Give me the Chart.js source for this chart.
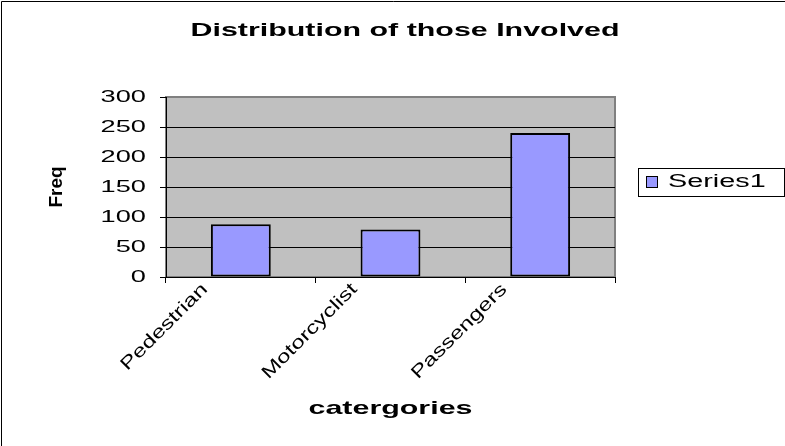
<!DOCTYPE html>
<html>
<head>
<meta charset="utf-8">
<script src="https://cdn.jsdelivr.net/npm/chart.js@4/dist/chart.umd.min.js"></script>
<style>
  html, body { margin: 0; padding: 0; background: #fff; }
</style>
</head>
<body>
<canvas id="chart" width="785" height="446"></canvas>
<script>
const categories = ["Pedestrian", "Motorcyclist", "Passengers"];
const series1 = [88, 79, 240];
const yTicks = [0, 50, 100, 150, 200, 250, 300];
const seriesName = "Series1";
const chartTitle = "Distribution of those Involved";
const xTitle = "catergories";
const yTitle = "Freq";

const FONT = "'Liberation Sans', Arial, sans-serif";
const STRETCH = 1.6; // the reference text is drawn wide

document.addEventListener("DOMContentLoaded", function () {
    const ctx = document.getElementById("chart").getContext("2d");

    // widen text along the horizontal, as in the picture
    const rawFillText = ctx.fillText.bind(ctx);
    ctx.fillText = function (text, x, y) {
        const m = ctx.getTransform();
        const len = Math.hypot(m.a, m.b) || 1;
        const sx = Math.hypot(STRETCH * m.a, m.b) / len;
        ctx.save();
        ctx.translate(x, y);
        ctx.scale(sx, 1);
        rawFillText(text, 0, 0);
        ctx.restore();
    };

    const excelFrame = {
        id: "excelFrame",
        beforeDraw(chart) {
            const a = chart.chartArea;
            const c = chart.ctx;
            c.save();
            c.fillStyle = "#C0C0C0";
            c.fillRect(a.left, a.top, a.right - a.left, a.bottom - a.top);
            c.strokeStyle = "#808080";
            c.lineWidth = 2;
            c.strokeRect(a.left, a.top, a.right - a.left, a.bottom - a.top);
            // outer chart border (only top and left are in the picture)
            c.strokeStyle = "#000";
            c.lineWidth = 1;
            c.beginPath();
            c.moveTo(1.5, 446);
            c.lineTo(1.5, 1.5);
            c.lineTo(785, 1.5);
            c.stroke();
            c.restore();
        },
        afterDraw(chart) {
            const c = chart.ctx;
            const ds = chart.data.datasets[0];
            c.save();
            c.fillStyle = "#000";
            c.font = "bold 19px " + FONT;
            c.textAlign = "center";
            c.textBaseline = "middle";
            c.fillText(chartTitle, 405, 31);

            // legend
            c.strokeStyle = "#000";
            c.lineWidth = 1;
            c.strokeRect(638.5, 168.5, 146, 28);
            c.fillStyle = ds.backgroundColor;
            c.fillRect(646.5, 176.5, 11, 11);
            c.strokeRect(646.5, 176.5, 11, 11);
            c.fillStyle = "#000";
            c.font = "18px " + FONT;
            c.textAlign = "left";
            c.fillText(ds.label, 668, 182);
            c.restore();
        }
    };

    new Chart(ctx, {
        type: "bar",
        data: {
            labels: categories,
            datasets: [{
                label: seriesName,
                data: series1,
                backgroundColor: "#9999FF",
                borderColor: "#000",
                borderWidth: 2,
                borderSkipped: false,
                barPercentage: 0.4,
                categoryPercentage: 1.0
            }]
        },
        options: {
            responsive: false,
            animation: false,
            devicePixelRatio: 1,
            layout: { padding: { top: 97, left: 40, right: 170, bottom: 20 } },
            plugins: {
                legend: { display: false },
                title: { display: false },
                tooltip: { enabled: false }
            },
            scales: {
                x: {
                    grid: { drawOnChartArea: false, offset: true, color: "#000", tickLength: 6 },
                    border: { color: "#000", width: 1 },
                    ticks: {
                        color: "#000",
                        font: { family: FONT, size: 18 },
                        minRotation: 45,
                        maxRotation: 45,
                        autoSkip: false,
                        padding: -4,
                        labelOffset: -36
                    },
                    title: {
                        display: true,
                        text: xTitle,
                        color: "#000",
                        font: { family: FONT, size: 19, weight: "bold" },
                        padding: { top: 0, bottom: 6 }
                    },
                    afterFit(s) { s.height = 149; }
                },
                y: {
                    min: yTicks[0],
                    max: yTicks[yTicks.length - 1],
                    afterBuildTicks(s) { s.ticks = yTicks.map(v => ({ value: v })); },
                    grid: {
                        color: c => c.tick && c.tick.value === yTicks[yTicks.length - 1] ? "#808080" : "#000",
                        tickColor: "#000",
                        tickLength: 6
                    },
                    border: { color: "#000", width: 1 },
                    ticks: { color: "#000", font: { family: FONT, size: 17 }, padding: 14 },
                    title: {
                        display: true,
                        text: yTitle,
                        color: "#000",
                        font: { family: FONT, size: 19, weight: "bold" },
                        padding: { top: 5, bottom: 0 }
                    },
                    afterFit(s) { s.width = 126; }
                }
            }
        },
        plugins: [excelFrame]
    });
});
</script>
</body>
</html>
